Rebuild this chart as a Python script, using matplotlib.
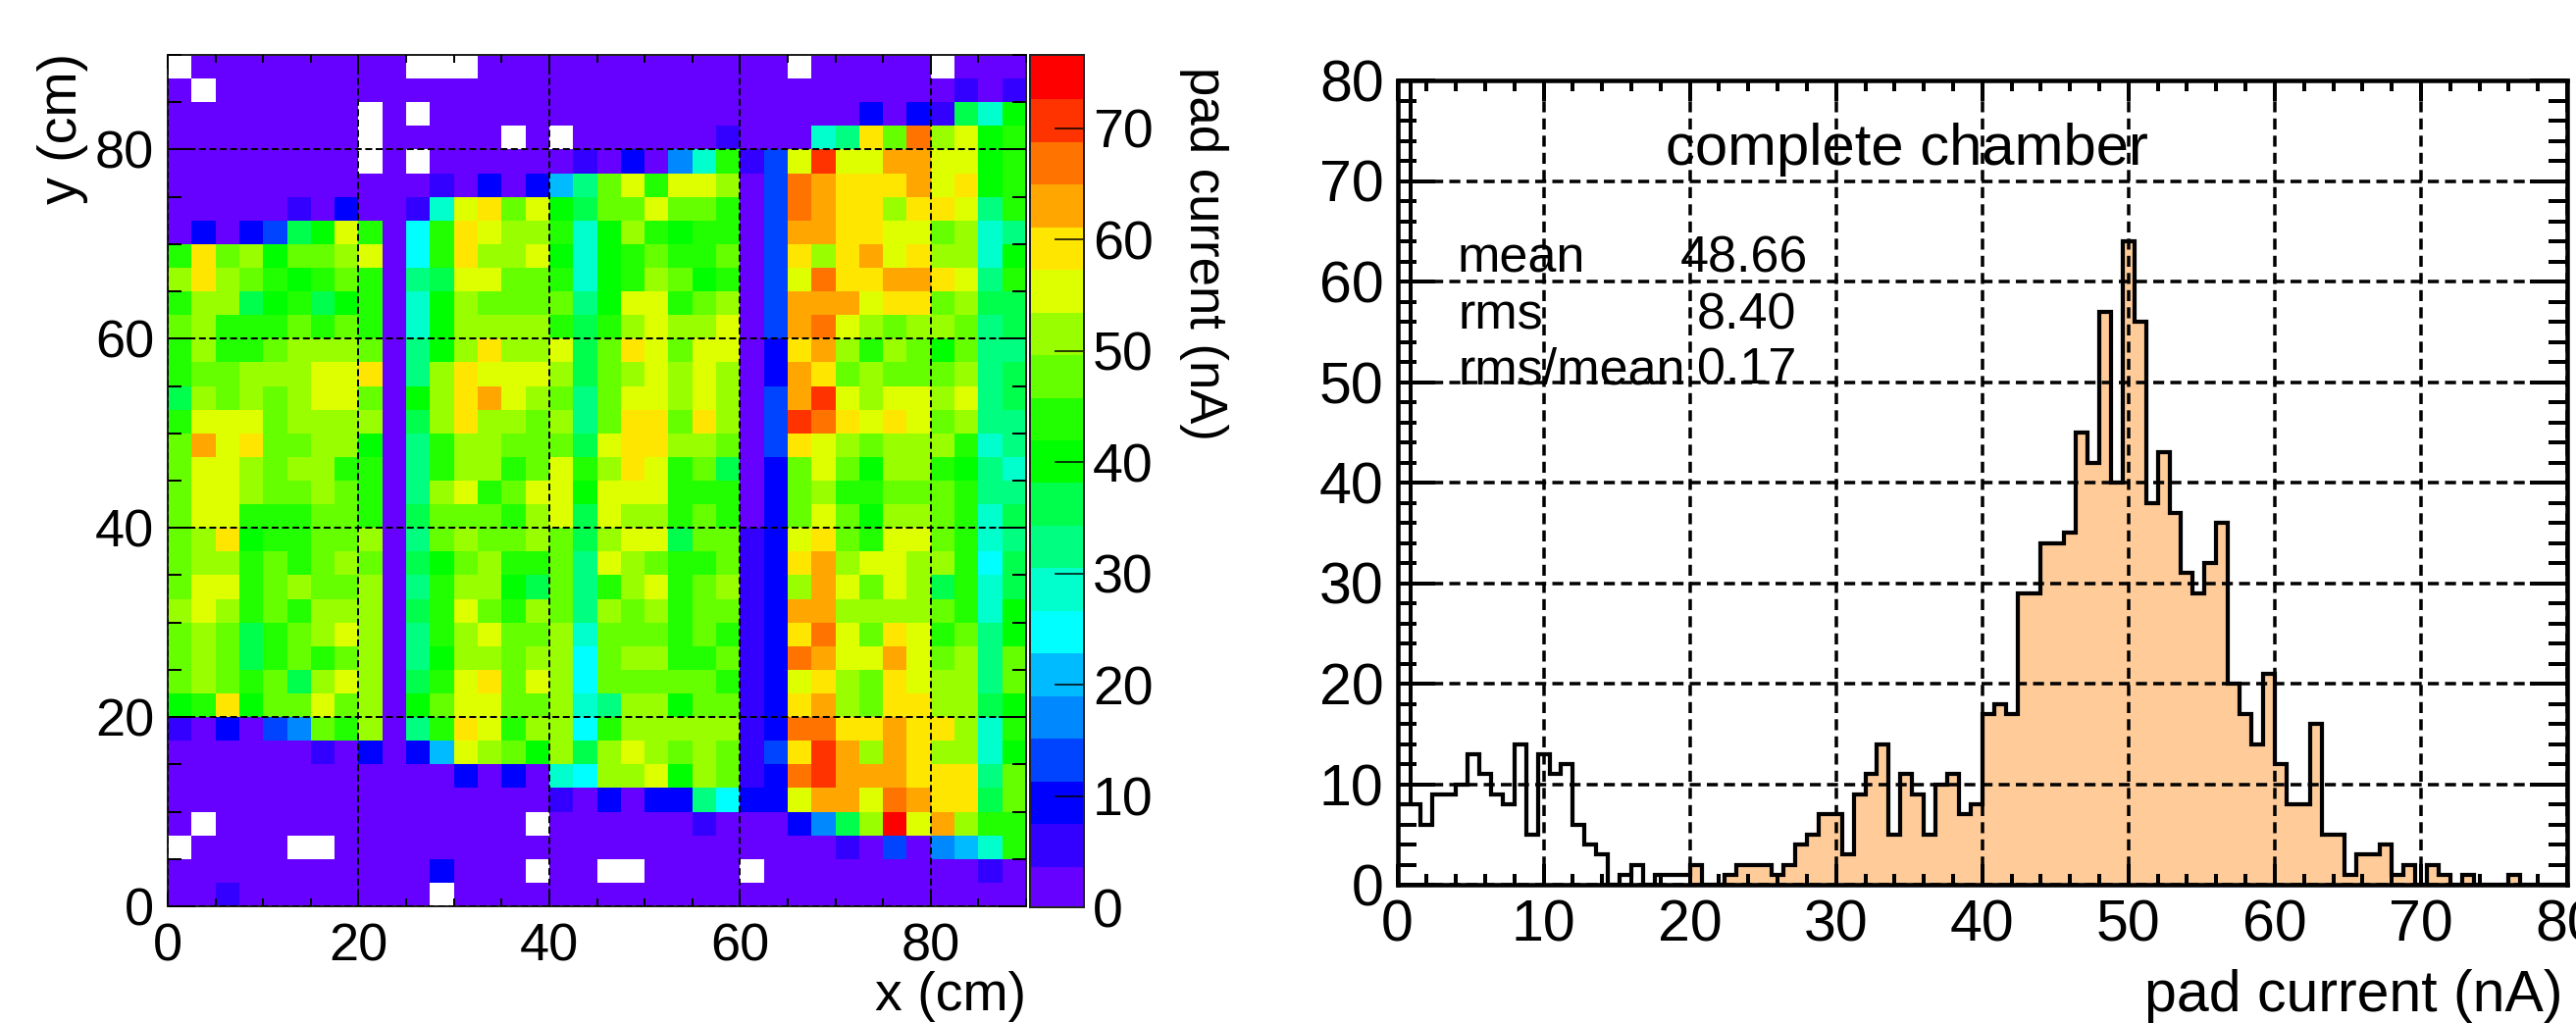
import matplotlib
matplotlib.use("Agg")
import matplotlib.pyplot as plt
from matplotlib.colors import BoundaryNorm, ListedColormap
import numpy as np

WIDTH, HEIGHT = 2626, 1043
N = np.nan

# pad current per pad (nA), top row first, 2.5 cm pads
PAD_ROWS = [
    [N,2,2,2,2,2,2,2,2,2, N,N,N,2,2,2,2,2,2,2, 2,2,2,2,2,2,N,2,2,2, 2,2,N,2,2,2],
    [2,N,2,2,2,2,2,2,2,2, 2,2,2,2,2,2,2,2,2,2, 2,2,2,2,2,2,2,2,2,2, 2,2,2,6,2,6],
    [2,2,2,2,2,2,2,2,N,2, N,2,2,2,2,2,2,2,2,2, 2,2,2,2,2,2,2,2,2,10, 2,10,6,36,29,40],
    [2,2,2,2,2,2,2,2,N,2, 2,2,2,2,N,2,N,2,2,2, 2,2,2,6,2,2,2,29,33,59, 48,67,52,56,40,44],
    [2,2,2,2,2,2,2,2,N,2, N,2,2,2,2,2,2,6,2,10, 2,17,29,44,6,13,56,71,56,56, 63,63,56,56,40,44],
    [2,2,2,2,2,2,2,2,2,2, 2,6,2,10,2,10,21,33,48,56, 44,56,56,52,2,13,67,63,59,59, 59,63,56,59,40,44],
    [2,2,2,2,2,6,2,10,2,2, 6,29,56,59,48,56,40,36,48,48, 56,48,48,44,2,13,67,63,59,59, 52,59,59,56,33,44],
    [2,10,2,10,13,36,40,56,44,2, 25,44,59,56,52,52,44,29,40,52, 44,40,44,44,2,13,63,63,59,59, 56,56,48,52,29,33],
    [44,59,48,52,40,48,48,52,56,2, 25,44,59,52,52,56,40,29,40,44, 48,44,44,48,2,13,59,52,59,63, 56,59,52,52,29,40],
    [52,59,52,48,44,40,44,48,44,2, 33,36,56,56,48,48,44,29,40,44, 52,48,40,44,2,13,56,67,59,59, 63,63,59,56,33,44],
    [44,52,52,36,40,44,36,40,44,2, 29,40,52,48,48,48,48,33,40,56, 56,44,48,52,2,13,63,63,63,56, 59,59,48,52,36,36],
    [48,52,44,44,44,48,44,48,44,2, 29,40,52,52,52,52,44,36,44,52, 56,52,52,56,2,13,63,67,56,52, 48,52,52,48,33,36],
    [44,52,44,44,48,52,52,52,48,2, 33,40,52,59,52,52,56,36,48,59, 56,48,56,56,2,10,59,63,52,44, 52,48,40,48,33,33],
    [44,48,48,52,52,52,56,56,59,2, 33,52,59,56,56,56,52,36,48,52, 56,52,56,52,2,10,63,59,48,52, 48,48,48,52,33,36],
    [36,52,48,52,48,52,56,56,48,2, 40,52,59,63,56,52,48,33,48,56, 56,52,56,52,2,13,63,71,56,52, 56,56,52,56,33,36],
    [44,56,56,56,48,52,52,52,52,2, 36,52,59,52,52,48,52,33,48,59, 59,48,59,52,2,13,71,67,59,56, 59,56,48,52,33,33],
    [48,63,56,59,48,48,52,52,40,2, 33,44,52,52,48,48,48,36,56,59, 59,52,52,48,2,13,59,56,52,48, 52,52,52,44,29,33],
    [48,56,56,52,48,52,52,44,44,2, 33,44,52,52,44,48,56,44,52,59, 56,44,48,36,2,10,48,56,48,40, 52,52,44,40,33,29],
    [48,56,56,52,48,48,52,48,44,2, 33,52,56,44,48,56,56,40,56,56, 56,44,44,44,2,10,48,52,44,44, 48,48,48,44,33,33],
    [48,56,56,44,44,44,48,48,44,2, 36,48,48,48,44,52,56,36,56,52, 52,44,48,44,2,10,48,56,48,40, 52,52,48,44,29,36],
    [48,52,59,40,44,44,48,48,52,2, 33,48,52,48,48,52,48,36,52,56, 56,36,48,48,6,10,56,59,48,44, 56,56,48,44,29,33],
    [48,52,52,44,48,44,48,52,48,2, 36,40,48,52,44,44,48,33,56,52, 48,44,44,48,6,10,59,63,52,56, 56,52,52,44,25,36],
    [48,56,56,44,48,52,48,48,52,2, 33,44,52,52,40,36,48,33,44,52, 56,44,48,52,6,10,52,63,56,48, 56,52,36,44,29,36],
    [52,56,52,44,48,44,52,52,52,2, 36,44,56,48,44,52,48,33,52,48, 52,44,48,48,6,10,63,63,52,52, 52,52,48,44,29,40],
    [48,52,48,36,44,48,52,56,52,2, 33,44,52,56,48,48,52,29,48,48, 48,44,48,44,6,10,59,67,56,48, 59,56,44,48,33,40],
    [48,52,48,36,44,48,44,48,52,2, 33,40,52,52,48,52,52,25,48,52, 52,44,44,48,6,10,67,63,56,56, 63,56,48,52,33,48],
    [48,52,48,44,48,36,52,56,52,2, 36,44,56,59,48,56,52,25,48,48, 48,48,48,44,6,10,56,59,52,48, 59,56,52,52,33,48],
    [40,44,59,40,48,48,56,48,52,2, 40,48,56,56,48,48,52,29,33,52, 52,40,48,48,6,10,59,63,52,48, 59,59,52,52,36,40],
    [6,2,10,2,13,17,48,44,52,2, 33,44,59,56,44,52,52,25,44,52, 52,52,52,52,6,10,67,67,59,59, 63,59,59,52,29,44],
    [2,2,2,2,2,2,6,2,10,2, 10,21,56,52,48,40,52,36,52,56, 52,48,52,48,6,13,59,71,63,52, 63,59,52,52,29,40],
    [2,2,2,2,2,2,2,2,2,2, 2,2,10,2,10,2,29,25,52,52, 56,40,52,48,6,10,67,71,63,63, 63,59,59,59,33,48],
    [2,2,2,2,2,2,2,2,2,2, 2,2,2,2,2,2,6,2,10,2, 10,10,33,25,10,10,56,63,63,56, 67,63,59,59,36,48],
    [2,N,2,2,2,2,2,2,2,2, 2,2,2,2,2,N,2,2,2,2, 2,2,6,2,2,2,10,17,36,52, 75,56,63,52,44,44],
    [N,2,2,2,2,N,N,2,2,2, 2,2,2,2,2,2,2,2,2,2, 2,2,2,2,2,2,2,2,6,2, 13,2,17,21,29,44],
    [2,2,2,2,2,2,2,2,2,2, 2,10,2,2,2,N,2,2,N,N, 2,2,2,2,N,2,2,2,2,2, 2,2,2,2,6,2],
    [2,2,6,2,2,2,2,2,2,2, 2,N,2,2,2,2,2,2,2,2, 2,2,2,2,2,2,2,2,2,2, 2,2,2,2,2,2],
]

PALETTE = [
    "#6600ff", "#3300ff", "#0000ff", "#0044ff", "#0088ff", "#00bbff", "#00ffff",
    "#00ffcc", "#00ff80", "#00ff4d", "#00ff00", "#22ff00", "#66ff00", "#99ff00",
    "#ddff00", "#ffe600", "#ffa600", "#ff7300", "#ff3300", "#ff0000",
]
CURRENT_MAX = 76.6

# histogram counts, 100 bins of 0.8 nA
HIST_COUNTS = [
    8, 8, 6, 9, 9, 10, 13, 11, 9, 8,
    14, 5, 13, 11, 12, 6, 4, 3, 0, 1,
    2, 0, 1, 1, 1, 2, 0, 0, 1, 2,
    2, 2, 1, 2, 4, 5, 7, 7, 3, 9,
    11, 14, 5, 11, 9, 5, 10, 11, 7, 8,
    17, 18, 17, 29, 29, 34, 34, 35, 45, 42,
    57, 40, 64, 56, 38, 43, 37, 31, 29, 32,
    36, 20, 17, 14, 21, 12, 8, 8, 16, 5,
    5, 1, 3, 3, 4, 1, 2, 0, 2, 1,
    0, 1, 0, 0, 0, 1, 0, 0, 0, 0,
]
FILL_START_BIN = 25
STATS_LABELS = ["mean", "rms", "rms/mean"]
STATS_VALUES = ["48.66", "8.40", "0.17"]


def px(points):
    return points * 0.72


def axes_box(left, top, right, bottom):
    return [left / WIDTH, 1 - bottom / HEIGHT, (right - left) / WIDTH, (bottom - top) / HEIGHT]


def put_text(fig, x, y, text, **kwargs):
    kwargs.setdefault("va", "baseline")
    fig.text(x / WIDTH, 1 - y / HEIGHT, text, **kwargs)


def main():
    plt.rcParams["font.family"] = ["Liberation Sans", "DejaVu Sans"]
    fig = plt.figure(figsize=(WIDTH / 100, HEIGHT / 100), dpi=100)

    # pad map
    ax = fig.add_axes(axes_box(171, 56, 1046, 924))
    cmap = ListedColormap(PALETTE)
    cmap.set_bad("white")
    norm = BoundaryNorm(np.linspace(0, CURRENT_MAX, len(PALETTE) + 1), len(PALETTE))
    values = np.array(PAD_ROWS, dtype=float)[::-1]
    n_rows, n_cols = values.shape
    mesh = ax.pcolormesh(
        np.linspace(0, 90, n_cols + 1),
        np.linspace(0, 90, n_rows + 1),
        np.ma.masked_invalid(values),
        cmap=cmap,
        norm=norm,
    )
    ax.set_xlim(0, 90)
    ax.set_ylim(0, 90)
    ax.set_xticks(np.arange(0, 81, 20))
    ax.set_yticks(np.arange(0, 81, 20))
    ax.set_xticks(np.arange(0, 91, 5), minor=True)
    ax.set_yticks(np.arange(0, 91, 5), minor=True)
    ax.grid(True, which="major", color="black", linewidth=px(2), linestyle=(0, (3.5, 1.8)))
    ax.set_axisbelow(False)
    ax.tick_params(axis="x", which="major", top=True, direction="in", length=px(14), width=px(2),
                   labelsize=39, pad=px(16))
    ax.tick_params(axis="x", which="minor", top=True, direction="in", length=px(8), width=px(2))
    ax.tick_params(axis="y", which="major", right=True, direction="in", length=px(28), width=px(2),
                   labelsize=39, pad=px(14))
    ax.tick_params(axis="y", which="minor", right=True, direction="in", length=px(14), width=px(2))
    for spine in ax.spines.values():
        spine.set_linewidth(px(2))
        spine.set_color("#222222")

    cax = fig.add_axes(axes_box(1050, 56, 1105, 925))
    cbar = fig.colorbar(mesh, cax=cax, ticks=np.arange(0, 71, 10), spacing="proportional")
    cbar.solids.set_edgecolor("face")
    cbar.ax.minorticks_off()
    cbar.ax.set_yticklabels([str(v) for v in range(0, 71, 10)])
    cbar.ax.tick_params(axis="y", direction="in", length=px(30), width=px(1.5), labelsize=40, pad=px(9))
    cbar.outline.set_linewidth(px(2))
    cbar.outline.set_edgecolor("#222222")

    put_text(fig, 1046, 1030, "x (cm)", ha="right", fontsize=40)
    put_text(fig, 64, 131, "y (cm)", ha="center", va="center", rotation=90, fontsize=40)
    put_text(fig, 1227, 258, "pad current (nA)", ha="center", va="center", rotation=270, fontsize=38)

    # histogram
    ax2 = fig.add_axes(axes_box(1424.5, 82, 2617, 902))
    edges = np.arange(len(HIST_COUNTS) + 1) * 0.8
    counts = np.array(HIST_COUNTS, dtype=float)
    ax2.stairs(counts[FILL_START_BIN:], edges[FILL_START_BIN:], fill=True, color="#ffcc99", linewidth=0, zorder=1)
    ax2.stairs(counts, edges, color="black", linewidth=px(4.2), zorder=3)
    ax2.plot([0.9, 0.9], [8, 80], color="black", linewidth=px(4), zorder=3)
    ax2.set_xlim(0, 80)
    ax2.set_ylim(0, 80)
    ax2.set_xticks(np.arange(0, 81, 10))
    ax2.set_yticks(np.arange(0, 81, 10))
    ax2.set_xticks(np.arange(0, 81, 2), minor=True)
    ax2.set_yticks(np.arange(0, 81, 2), minor=True)
    ax2.grid(True, which="major", color="black", linewidth=px(3.5), linestyle=(0, (3.2, 1.8)), zorder=2)
    ax2.tick_params(axis="x", which="major", top=True, direction="in", length=px(21), width=px(4),
                    labelsize=42.5, pad=px(15))
    ax2.tick_params(axis="x", which="minor", top=True, direction="in", length=px(11), width=px(4))
    ax2.tick_params(axis="y", which="major", right=True, direction="in", length=px(38), width=px(4),
                    labelsize=42.5, pad=px(14))
    ax2.tick_params(axis="y", which="minor", right=True, direction="in", length=px(19), width=px(4))
    for spine in ax2.spines.values():
        spine.set_linewidth(px(4.5))

    put_text(fig, 2186, 1031, "pad current (nA)", fontsize=42.5)
    put_text(fig, 1698, 168, "complete chamber", fontsize=43)
    stat_baselines = [277, 336, 391]
    stat_value_x = [1713, 1730, 1730]
    for name, value, base, vx in zip(STATS_LABELS, STATS_VALUES, stat_baselines, stat_value_x):
        put_text(fig, 1486, base, name, fontsize=37.5, zorder=5)
        put_text(fig, vx, base, value, fontsize=37.5, zorder=5)

    fig.savefig("out.png", dpi=100)
    plt.close(fig)


if __name__ == "__main__":
    main()
